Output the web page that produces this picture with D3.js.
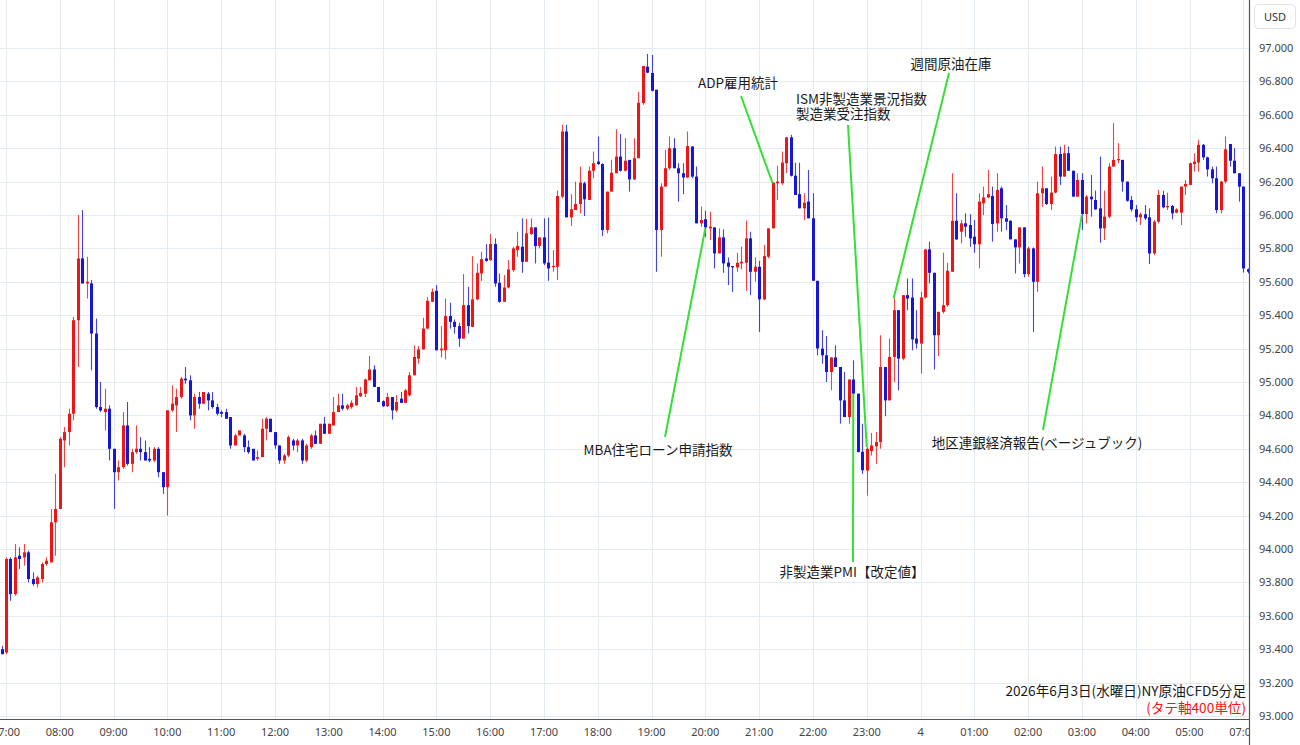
<!DOCTYPE html>
<html>
<head>
<meta charset="utf-8">
<script src="https://cdn.jsdelivr.net/npm/d3@7/dist/d3.min.js"></script>
<style>
  html, body { margin: 0; padding: 0; background: #fff; }
  svg { display: block; font-family: "Noto Sans", "Noto Sans CJK JP", sans-serif; }
</style>
</head>
<body>
<svg id="chart" width="1300" height="745"></svg>
<script>
// 5 minute candles, [open, high, low, close], one list per hour
const prevDay = [[93.40, 93.42, 93.37, 93.37]]; // 05:55 of the day before
const h07 = [
  [93.38, 93.95, 93.37, 93.94], [93.94, 93.95, 93.69, 93.73], [93.73, 94.03, 93.72, 93.95], [93.96, 94.01, 93.88, 93.94],
  [93.95, 94.03, 93.90, 93.98], [93.98, 93.99, 93.80, 93.82], [93.82, 93.86, 93.78, 93.79], [93.79, 93.84, 93.77, 93.83],
  [93.82, 93.92, 93.80, 93.91], [93.91, 93.95, 93.90, 93.93], [93.92, 94.24, 93.92, 94.16], [94.16, 94.45, 93.96, 94.24]
];
const h08 = [
  [94.24, 94.67, 94.24, 94.66], [94.65, 94.73, 94.49, 94.70], [94.70, 94.84, 94.62, 94.81], [94.81, 95.39, 94.77, 95.37],
  [95.37, 96.00, 95.09, 95.74], [95.74, 96.03, 95.59, 95.59], [95.59, 95.75, 95.50, 95.60], [95.59, 95.61, 95.07, 95.29],
  [95.29, 95.38, 94.84, 94.85], [94.85, 95.00, 94.82, 94.83], [94.82, 94.96, 94.71, 94.84], [94.84, 94.86, 94.53, 94.60]
];
const h09 = [
  [94.60, 94.60, 94.24, 94.46], [94.46, 94.53, 94.41, 94.49], [94.49, 94.82, 94.48, 94.74], [94.74, 94.88, 94.50, 94.51],
  [94.51, 94.60, 94.46, 94.58], [94.58, 94.74, 94.57, 94.60], [94.60, 94.67, 94.53, 94.58], [94.58, 94.65, 94.53, 94.53],
  [94.54, 94.61, 94.52, 94.53], [94.53, 94.61, 94.52, 94.60], [94.60, 94.61, 94.43, 94.46], [94.46, 94.46, 94.33, 94.37]
];
const h10 = [
  [94.37, 94.83, 94.20, 94.83], [94.83, 94.98, 94.82, 94.87], [94.86, 94.96, 94.70, 94.91], [94.91, 95.03, 94.90, 95.02],
  [95.02, 95.09, 94.99, 95.01], [95.01, 95.04, 94.77, 94.80], [94.80, 94.93, 94.72, 94.91], [94.91, 94.94, 94.84, 94.87],
  [94.87, 94.94, 94.87, 94.94], [94.93, 94.94, 94.83, 94.89], [94.89, 94.94, 94.84, 94.85], [94.85, 94.87, 94.80, 94.81]
];
const h11 = [
  [94.82, 94.83, 94.79, 94.81], [94.82, 94.84, 94.78, 94.78], [94.79, 94.79, 94.60, 94.62], [94.62, 94.69, 94.62, 94.68],
  [94.68, 94.71, 94.68, 94.71], [94.68, 94.69, 94.58, 94.61], [94.61, 94.65, 94.57, 94.58], [94.60, 94.60, 94.53, 94.53],
  [94.54, 94.59, 94.53, 94.55], [94.55, 94.78, 94.55, 94.72], [94.72, 94.79, 94.65, 94.78], [94.78, 94.78, 94.70, 94.70]
];
const h12 = [
  [94.70, 94.70, 94.60, 94.62], [94.62, 94.62, 94.51, 94.53], [94.53, 94.57, 94.51, 94.56], [94.56, 94.68, 94.55, 94.67],
  [94.65, 94.66, 94.59, 94.62], [94.62, 94.66, 94.58, 94.65], [94.65, 94.66, 94.51, 94.53], [94.53, 94.63, 94.52, 94.62],
  [94.61, 94.69, 94.60, 94.68], [94.68, 94.71, 94.63, 94.63], [94.63, 94.75, 94.63, 94.75], [94.75, 94.79, 94.69, 94.69]
];
const h13 = [
  [94.69, 94.75, 94.69, 94.75], [94.74, 94.91, 94.74, 94.82], [94.82, 94.93, 94.82, 94.86], [94.86, 94.93, 94.83, 94.84],
  [94.84, 94.87, 94.83, 94.86], [94.85, 94.89, 94.84, 94.875], [94.86, 94.97, 94.86, 94.92], [94.915, 94.97, 94.91, 94.935],
  [94.93, 95.02, 94.91, 95.015], [95.01, 95.155, 95.01, 95.075], [95.075, 95.10, 94.97, 94.97], [94.97, 94.97, 94.88, 94.88]
];
const h14 = [
  [94.885, 94.89, 94.85, 94.855], [94.855, 94.935, 94.85, 94.91], [94.91, 94.91, 94.775, 94.83], [94.83, 94.92, 94.82, 94.88],
  [94.90, 94.94, 94.875, 94.875], [94.875, 94.96, 94.875, 94.95], [94.92, 95.06, 94.915, 95.04], [95.04, 95.22, 95.04, 95.15],
  [95.14, 95.215, 95.11, 95.195], [95.195, 95.385, 95.195, 95.32], [95.32, 95.51, 95.315, 95.486], [95.48, 95.56, 95.48, 95.54]
];
const h15 = [
  [95.546, 95.58, 95.19, 95.19], [95.19, 95.335, 95.147, 95.20], [95.19, 95.50, 95.135, 95.395], [95.395, 95.475, 95.32, 95.36],
  [95.36, 95.375, 95.29, 95.33], [95.335, 95.355, 95.21, 95.26], [95.26, 95.646, 95.26, 95.46], [95.46, 95.57, 95.29, 95.335],
  [95.33, 95.754, 95.33, 95.495], [95.495, 95.71, 95.49, 95.654], [95.65, 95.78, 95.605, 95.735], [95.74, 95.826, 95.72, 95.725]
];
const h16 = [
  [95.73, 95.886, 95.725, 95.826], [95.826, 95.86, 95.57, 95.59], [95.594, 95.65, 95.475, 95.48], [95.48, 95.64, 95.48, 95.566],
  [95.566, 95.73, 95.56, 95.674], [95.67, 95.81, 95.66, 95.80], [95.79, 95.90, 95.75, 95.815], [95.81, 95.98, 95.654, 95.72],
  [95.72, 95.976, 95.72, 95.89], [95.886, 95.98, 95.88, 95.926], [95.926, 95.926, 95.71, 95.814], [95.815, 95.866, 95.80, 95.866]
];
const h17 = [
  [95.866, 95.98, 95.70, 95.71], [95.715, 95.985, 95.606, 95.68], [95.69, 95.79, 95.66, 95.695], [95.69, 96.146, 95.61, 96.114],
  [96.11, 96.54, 96.10, 96.50], [96.50, 96.54, 95.986, 95.986], [95.986, 96.125, 95.934, 96.034], [96.03, 96.20, 96.03, 96.066],
  [96.066, 96.29, 96.01, 96.194], [96.19, 96.20, 95.994, 96.094], [96.09, 96.29, 96.09, 96.265], [96.265, 96.38, 96.22, 96.31]
];
const h18 = [
  [96.32, 96.47, 96.30, 96.305], [96.305, 96.31, 95.874, 95.91], [95.91, 96.14, 95.89, 96.14], [96.14, 96.33, 96.14, 96.253],
  [96.25, 96.513, 96.25, 96.35], [96.35, 96.485, 96.26, 96.265], [96.265, 96.46, 96.26, 96.325], [96.33, 96.33, 96.14, 96.213],
  [96.213, 96.46, 96.21, 96.34], [96.34, 96.738, 96.34, 96.672], [96.67, 96.892, 96.66, 96.892], [96.888, 96.964, 96.85, 96.852]
];
const h19 = [
  [96.85, 96.958, 96.74, 96.744], [96.75, 96.75, 95.66, 95.91], [95.91, 96.19, 95.75, 96.17], [96.17, 96.39, 96.17, 96.28],
  [96.28, 96.47, 96.27, 96.40], [96.40, 96.46, 96.28, 96.28], [96.28, 96.31, 96.08, 96.25], [96.25, 96.31, 96.125, 96.225],
  [96.225, 96.50, 96.22, 96.413], [96.41, 96.413, 96.22, 96.23], [96.23, 96.29, 95.95, 95.95], [95.95, 96.05, 95.93, 95.97]
];
const h20 = [
  [95.975, 96.026, 95.87, 95.926], [95.92, 96.02, 95.85, 95.93], [95.926, 95.926, 95.68, 95.77], [95.77, 95.92, 95.77, 95.866],
  [95.866, 95.914, 95.654, 95.71], [95.715, 95.746, 95.58, 95.69], [95.694, 95.694, 95.54, 95.69], [95.686, 95.774, 95.66, 95.714],
  [95.71, 95.81, 95.674, 95.72], [95.714, 95.966, 95.546, 95.86], [95.86, 95.90, 95.52, 95.66], [95.66, 95.746, 95.60, 95.69]
];
const h21 = [
  [95.69, 95.726, 95.30, 95.495], [95.495, 95.82, 95.49, 95.754], [95.75, 95.92, 95.74, 95.92], [95.92, 96.194, 95.92, 96.194],
  [96.19, 96.294, 96.09, 96.20], [96.19, 96.38, 96.18, 96.314], [96.31, 96.465, 96.25, 96.465], [96.465, 96.48, 96.23, 96.235],
  [96.235, 96.313, 96.12, 96.12], [96.125, 96.313, 96.04, 96.04], [96.04, 96.13, 95.97, 96.074], [96.08, 96.27, 95.98, 95.98]
];
const h22 = [
  [95.98, 96.13, 95.606, 95.606], [95.606, 95.606, 95.16, 95.201], [95.20, 95.31, 95.11, 95.16], [95.16, 95.275, 95.00, 95.06],
  [95.06, 95.147, 94.95, 95.147], [95.147, 95.22, 95.09, 95.09], [95.09, 95.09, 94.75, 94.89], [94.89, 95.06, 94.79, 94.79],
  [94.79, 95.015, 94.75, 95.015], [95.015, 95.13, 94.93, 94.93], [94.93, 94.93, 94.58, 94.58], [94.582, 94.75, 94.45, 94.472]
];
const h23 = [
  [94.47, 94.61, 94.32, 94.60], [94.587, 94.695, 94.56, 94.62], [94.615, 94.70, 94.51, 94.64], [94.64, 95.28, 94.60, 95.09],
  [95.09, 95.09, 94.795, 94.89], [94.89, 95.26, 94.89, 95.15], [95.15, 95.50, 95.00, 95.43], [95.43, 95.43, 94.95, 95.14],
  [95.14, 95.52, 95.13, 95.52], [95.52, 95.62, 95.43, 95.50], [95.506, 95.62, 95.19, 95.255], [95.26, 95.43, 95.20, 95.23]
];
const h00 = [
  [95.23, 95.54, 95.05, 95.506], [95.506, 95.794, 95.50, 95.794], [95.794, 95.84, 95.59, 95.654], [95.654, 95.654, 95.075, 95.28],
  [95.28, 95.42, 95.155, 95.42], [95.42, 95.774, 95.41, 95.46], [95.46, 95.714, 95.45, 95.666], [95.66, 96.25, 95.66, 95.965],
  [95.965, 96.13, 95.85, 95.854], [95.90, 95.97, 95.83, 95.95], [95.95, 96.01, 95.87, 95.93], [95.94, 96.005, 95.81, 95.86]
];
const h01 = [
  [95.87, 95.97, 95.774, 95.825], [95.825, 96.13, 95.68, 96.08], [96.07, 96.17, 96.00, 96.105], [96.105, 96.27, 96.10, 96.125],
  [96.114, 96.17, 95.84, 95.946], [95.95, 96.25, 95.90, 96.15], [96.16, 96.17, 95.90, 95.98], [95.98, 96.06, 95.91, 95.96],
  [95.966, 95.966, 95.854, 95.854], [95.854, 95.854, 95.65, 95.806], [95.806, 95.926, 95.71, 95.926], [95.926, 95.926, 95.626, 95.646]
];
const h02 = [
  [95.646, 95.81, 95.63, 95.80], [95.80, 95.806, 95.30, 95.60], [95.60, 96.20, 95.54, 96.13], [96.13, 96.29, 96.05, 96.16],
  [96.16, 96.16, 96.06, 96.066], [96.066, 96.23, 96.03, 96.134], [96.134, 96.41, 96.13, 96.365], [96.365, 96.41, 96.18, 96.23],
  [96.23, 96.42, 96.23, 96.37], [96.37, 96.41, 96.265, 96.265], [96.265, 96.265, 96.11, 96.11], [96.11, 96.25, 96.11, 96.21]
];
const h03 = [
  [96.21, 96.25, 95.91, 96.006], [96.006, 96.12, 95.95, 96.11], [96.11, 96.24, 95.99, 96.094], [96.09, 96.146, 96.03, 96.034],
  [96.04, 96.35, 95.834, 95.92], [95.92, 96.146, 95.85, 95.99], [95.99, 96.31, 95.98, 96.29], [96.29, 96.55, 96.29, 96.33],
  [96.33, 96.43, 96.31, 96.335], [96.33, 96.33, 96.14, 96.20], [96.20, 96.20, 96.08, 96.085], [96.09, 96.114, 96.02, 96.034]
];
const h04 = [
  [96.034, 96.06, 95.96, 95.986], [95.986, 96.014, 95.94, 96.004], [96.004, 96.06, 95.97, 95.98], [95.986, 96.04, 95.707, 95.77],
  [95.77, 95.97, 95.76, 95.96], [95.96, 96.15, 95.95, 96.12], [96.12, 96.146, 96.04, 96.046], [96.046, 96.134, 96.03, 96.054],
  [96.054, 96.06, 95.974, 96.01], [96.014, 96.04, 96.01, 96.034], [96.014, 96.17, 95.94, 96.17], [96.17, 96.21, 96.12, 96.186]
];
const h05 = [
  [96.18, 96.314, 96.18, 96.31], [96.305, 96.37, 96.26, 96.32], [96.314, 96.45, 96.26, 96.42], [96.42, 96.425, 96.33, 96.345],
  [96.345, 96.35, 96.23, 96.273], [96.273, 96.29, 96.19, 96.22], [96.22, 96.29, 96.01, 96.03], [96.03, 96.205, 96.01, 96.20],
  [96.20, 96.47, 96.19, 96.393], [96.425, 96.425, 96.29, 96.325], [96.325, 96.40, 96.25, 96.25], [96.25, 96.25, 96.08, 96.17]
];
const nextDay = [[96.17, 96.17, 95.655, 95.68], [95.675, 95.68, 95.65, 95.66]]; // 07:00, 07:05

const hourLabels = ["07:00", "08:00", "09:00", "10:00", "11:00", "12:00", "13:00", "14:00", "15:00", "16:00",
  "17:00", "18:00", "19:00", "20:00", "21:00", "22:00", "23:00", "4", "01:00", "02:00", "03:00", "04:00", "05:00", "07:00"];
const priceTicks = [93.0, 93.2, 93.4, 93.6, 93.8, 94.0, 94.2, 94.4, 94.6, 94.8, 95.0,
  95.2, 95.4, 95.6, 95.8, 96.0, 96.2, 96.4, 96.6, 96.8, 97.0];

// economic releases: label, candle index, price the pointer ends at
const events = [
  { key: "adp", text: ["ADP雇用統計"], idx: 171, price: 96.19 },
  { key: "ism", text: ["ISM非製造業景況指数", "製造業受注指数"], idx: 192, price: 94.61 },
  { key: "oil", text: ["週間原油在庫"], idx: 198, price: 95.50 },
  { key: "mba", text: ["MBA住宅ローン申請指数"], idx: 156, price: 95.92 },
  { key: "pmi", text: ["非製造業PMI【改定値】"], idx: 189, price: 94.93 },
  { key: "beige", text: ["地区連銀経済報告(ベージュブック)"], idx: 240, price: 96.00 }
];

const titleLine = "2026年6月3日(水曜日)NY原油CFD5分足";
const unitLine = "(タテ軸400単位)";

// ---------------------------------------------------------------
const hours = [h07, h08, h09, h10, h11, h12, h13, h14, h15, h16, h17, h18, h19, h20, h21, h22, h23,
  h00, h01, h02, h03, h04, h05];
const rows = [].concat(prevDay, ...hours, nextDay);
const candles = rows.map((r, i) => ({ i: i - 1, o: r[0], h: r[1], l: r[2], c: r[3] }));

const W = 1300, H = 745;
const plotR = 1249, plotB = 719;
const step = 4.483;

const svg = d3.select("#chart");

const x = d3.scaleBand()
  .domain(candles.map(d => d.i))
  .range([6 - 1.5 * step, 6 - 1.5 * step + candles.length * step])
  .padding(0);
const cx = i => x(i) + x.bandwidth() / 2;

const y = d3.scaleLinear().domain([93, 97]).range([716, 48]);

svg.append("defs").append("clipPath").attr("id", "plot")
  .append("rect").attr("x", 0).attr("y", 0).attr("width", plotR).attr("height", plotB);

// grid
const grid = svg.append("g").attr("clip-path", "url(#plot)");
grid.selectAll(".hg").data(priceTicks).enter().append("line")
  .attr("x1", 0).attr("x2", plotR)
  .attr("y1", d => Math.round(y(d)) + 0.5).attr("y2", d => Math.round(y(d)) + 0.5)
  .attr("stroke", "#e4ecf2").attr("stroke-width", 1);
const hourIdx = hourLabels.map((d, k) => k * 12);
grid.selectAll(".vg").data(hourIdx).enter().append("line")
  .attr("x1", d => Math.round(cx(d)) + 0.5).attr("x2", d => Math.round(cx(d)) + 0.5)
  .attr("y1", 0).attr("y2", plotB)
  .attr("stroke", "#e4ecf2").attr("stroke-width", 1);

// candles
const red = "#f01414", blue = "#1515e0";
const cg = svg.append("g").attr("clip-path", "url(#plot)");
const cand = cg.selectAll(".c").data(candles).enter().append("g");
cand.append("line")
  .attr("x1", d => Math.round(cx(d.i)) + 0.5).attr("x2", d => Math.round(cx(d.i)) + 0.5)
  .attr("y1", d => y(d.h)).attr("y2", d => y(d.l))
  .attr("stroke", d => d.c >= d.o ? red : blue)
  .attr("stroke-opacity", 0.8)
  .attr("stroke-width", 1.1);
cand.append("rect")
  .attr("x", d => Math.round(cx(d.i)) - 1)
  .attr("width", 3)
  .attr("y", d => y(Math.max(d.o, d.c)))
  .attr("height", d => Math.max(1.2, Math.abs(y(d.o) - y(d.c))))
  .attr("fill", d => d.c >= d.o ? red : blue);

// event pointers and labels
const labelPos = {
  adp: { x: 738, y: 83, anchor: "middle", from: [741, 96] },
  ism: { x: 796, y: 99, anchor: "start", from: [848, 125] },
  oil: { x: 951, y: 64, anchor: "middle", from: [949, 73] },
  mba: { x: 658, y: 450, anchor: "middle", from: [665, 437] },
  pmi: { x: 852, y: 572, anchor: "middle", from: [853, 562] },
  beige: { x: 1037, y: 443, anchor: "middle", from: [1043, 430] }
};
const eg = svg.append("g");
events.forEach(ev => {
  const p = labelPos[ev.key];
  eg.append("line")
    .attr("x1", p.from[0]).attr("y1", p.from[1])
    .attr("x2", cx(ev.idx)).attr("y2", y(ev.price))
    .attr("stroke", "#33e033").attr("stroke-width", 2);
  ev.text.forEach((t, k) => {
    eg.append("text")
      .attr("x", p.x).attr("y", p.y + k * 15)
      .attr("dy", "0.35em")
      .attr("text-anchor", p.anchor)
      .attr("font-family", "'Noto Sans CJK JP', sans-serif")
      .attr("font-size", 13.5)
      .attr("fill", "#1a1a1a")
      .text(t);
  });
});

// x axis
const xa = svg.append("g")
  .attr("transform", `translate(0,${plotB})`)
  .attr("clip-path", "url(#xclip)");
svg.select("defs").append("clipPath").attr("id", "xclip")
  .append("rect").attr("x", 0).attr("y", 0).attr("width", plotR).attr("height", 30);
xa.call(d3.axisBottom(x).tickValues(hourIdx).tickFormat((d, k) => hourLabels[k]).tickSize(0).tickPadding(9));
xa.select(".domain").remove();
xa.selectAll("text").attr("font-size", 11).attr("fill", "#444").attr("font-family", "'Noto Sans', sans-serif");

// y axis on the right
const ya = svg.append("g").attr("transform", `translate(${plotR},0)`);
ya.call(d3.axisRight(y).tickValues(priceTicks).tickFormat(d3.format(".3f")).tickSize(0).tickPadding(10));
ya.select(".domain").remove();
ya.selectAll("text").attr("font-size", 11).attr("fill", "#444").attr("font-family", "'Noto Sans', sans-serif");

// frame lines
svg.append("line").attr("x1", 0).attr("x2", plotR).attr("y1", plotB + 0.5).attr("y2", plotB + 0.5)
  .attr("stroke", "#555").attr("stroke-width", 1.2);
svg.append("line").attr("x1", plotR + 0.5).attr("x2", plotR + 0.5).attr("y1", 0).attr("y2", H)
  .attr("stroke", "#555").attr("stroke-width", 1.2);

// currency badge
svg.append("rect").attr("x", 1254.5).attr("y", 4.5).attr("width", 41).attr("height", 24).attr("rx", 4)
  .attr("fill", "#fff").attr("stroke", "#e2e2e2");
svg.append("text").attr("x", 1275).attr("y", 17).attr("dy", "0.35em").attr("text-anchor", "middle")
  .attr("font-size", 11).attr("fill", "#333").text("USD");

// caption
svg.append("text").attr("x", 1246).attr("y", 691).attr("dy", "0.35em").attr("text-anchor", "end")
  .attr("font-family", "'Noto Sans CJK JP', sans-serif").attr("font-size", 13.6).attr("fill", "#1a1a1a")
  .text(titleLine);
svg.append("text").attr("x", 1246).attr("y", 708).attr("dy", "0.35em").attr("text-anchor", "end")
  .attr("font-family", "'Noto Sans CJK JP', sans-serif").attr("font-size", 13.6).attr("fill", "#ff1010")
  .text(unitLine);
</script>
</body>
</html>
